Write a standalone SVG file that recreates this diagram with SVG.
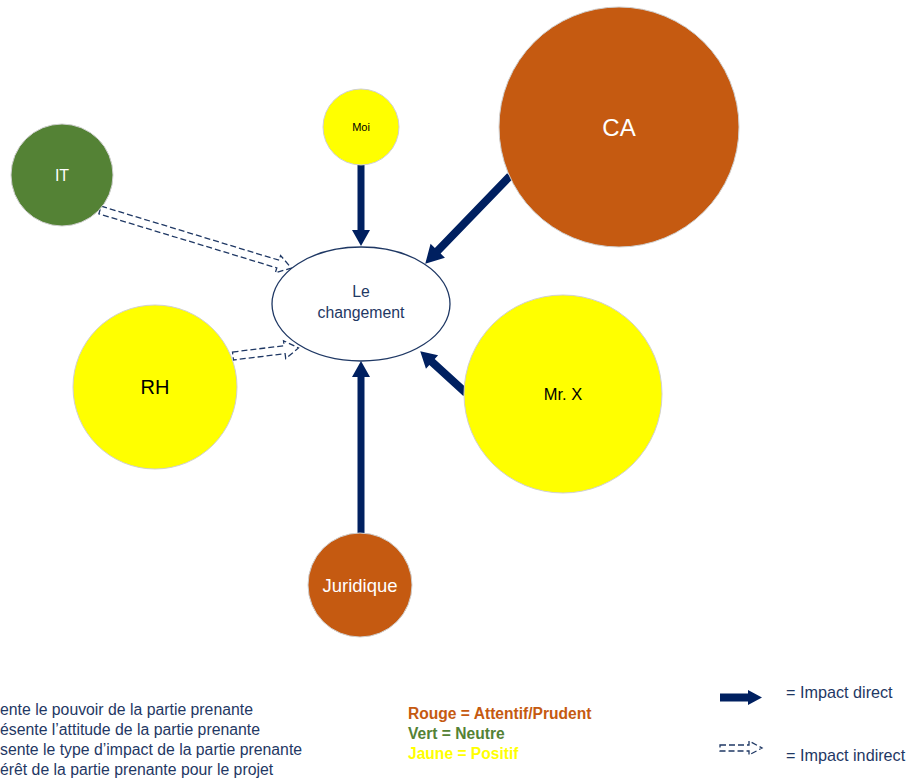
<svg xmlns="http://www.w3.org/2000/svg" width="912" height="781" viewBox="0 0 912 781">
<style>
  text { font-family: "Liberation Sans", Arial, sans-serif; }
  .node { stroke: #d0d0d0; stroke-width: 1; }
  .orange { fill: #C55A11; }
  .green { fill: #548235; }
  .yellow { fill: #FFFF00; }
  .solid { fill: #002060; }
  .dashed { fill: none; stroke: #1F3864; stroke-width: 1.3; stroke-dasharray: 6 3; }
  .legend { fill: #1F3864; font-size: 15.8px; }
  .legend2 { fill: #1F3864; font-size: 16.2px; }
  .key { font-size: 15.6px; font-weight: bold; }
</style>
<rect width="912" height="781" fill="#ffffff"/>

<g id="connectors">
  <polygon class="solid" points="0,-3.5 65,-3.5 65,-9 81,0 65,9 65,3.5 0,3.5" transform="translate(361,165) rotate(90)"/>
  <polygon class="solid" points="0,-4 104,-4 104,-10 122,0 104,10 104,4 0,4" transform="translate(510,176) rotate(134)"/>
  <polygon class="solid" points="0,-4 46,-4 46,-9 62,0 46,9 46,4 0,4" transform="translate(466,393) rotate(222.4)"/>
  <polygon class="solid" points="0,-3.5 156,-3.5 156,-9 172,0 156,9 156,3.5 0,3.5" transform="translate(361,533) rotate(-90)"/>
  <polygon class="dashed" points="0,-4 186,-4 186,-9 200,0 186,9 186,4 0,4" transform="translate(100,210) rotate(16.9)"/>
  <polygon class="dashed" points="0,-4 52,-4 52,-9 66,0 52,9 52,4 0,4" transform="translate(233,356) rotate(-7)"/>
</g>

<g id="node-changement">
  <ellipse cx="361" cy="304" rx="89" ry="57" fill="#ffffff" stroke="#1F3864" stroke-width="1.3"/>
  <text x="361" y="297" text-anchor="middle" font-size="15.8" fill="#1F3864">Le</text>
  <text x="361" y="318" text-anchor="middle" font-size="15.8" fill="#1F3864">changement</text>
</g>

<g id="node-moi">
  <circle class="node yellow" cx="361" cy="127" r="38"/>
  <text x="361" y="131" text-anchor="middle" font-size="11" fill="#000">Moi</text>
</g>

<g id="node-ca">
  <circle class="node orange" cx="619" cy="127" r="120"/>
  <text x="619" y="136" text-anchor="middle" font-size="24" fill="#ffffff">CA</text>
</g>

<g id="node-it">
  <circle class="node green" cx="62" cy="175" r="51"/>
  <text x="62" y="181" text-anchor="middle" font-size="16" fill="#ffffff">IT</text>
</g>

<g id="node-rh">
  <circle class="node yellow" cx="155" cy="387" r="82"/>
  <text x="155" y="394" text-anchor="middle" font-size="20" fill="#000">RH</text>
</g>

<g id="node-mrx">
  <circle class="node yellow" cx="563" cy="394" r="99"/>
  <text x="563" y="400" text-anchor="middle" font-size="16.5" fill="#000">Mr. X</text>
</g>

<g id="node-juridique">
  <circle class="node orange" cx="360" cy="585" r="52"/>
  <text x="360" y="592" text-anchor="middle" font-size="18.5" fill="#ffffff">Juridique</text>
</g>

<g id="legend">
  <text class="legend" x="0" y="715">ente le pouvoir de la partie prenante</text>
  <text class="legend" x="0" y="735">ésente l’attitude de la partie prenante</text>
  <text class="legend" x="0" y="755">sente le type d’impact de la partie prenante</text>
  <text class="legend" x="0" y="775">érêt de la partie prenante pour le projet</text>

  <text class="key" x="408" y="719" fill="#C55A11">Rouge = Attentif/Prudent</text>
  <text class="key" x="408" y="739" fill="#548235">Vert = Neutre</text>
  <text class="key" x="408" y="759" fill="#FFFF00">Jaune = Positif</text>

  <polygon class="solid" points="720,693.5 748,693.5 748,690 762,697.5 748,705 748,701.5 720,701.5"/>
  <text class="legend2" x="786" y="698">= Impact direct</text>

  <polygon class="dashed" points="720,745 749,745 749,741 762,748 749,755 749,751 720,751"/>
  <text class="legend2" x="786" y="761">= Impact indirect</text>
</g>
</svg>
